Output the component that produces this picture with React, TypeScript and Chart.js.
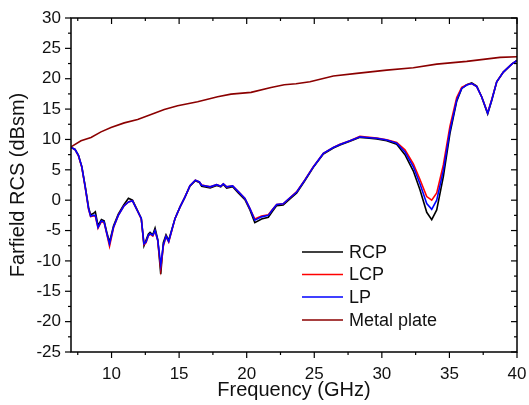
import React, { useEffect, useRef } from "react";
import { Chart, registerables } from "chart.js";

Chart.register(...registerables);

// Frequency samples (GHz) shared by the three polarisation curves
const freq = [
  7.0, 7.3, 7.55, 7.8, 8.05, 8.3, 8.45, 8.65, 8.8, 9.0,
  9.25, 9.45, 9.65, 9.85, 10.15, 10.5, 10.9, 11.25, 11.55, 11.9,
  12.2, 12.4, 12.55, 12.72, 12.85, 13.05, 13.22, 13.42, 13.64, 13.83,
  14.03, 14.23, 14.45, 14.7, 15.07, 15.43, 15.8, 16.2, 16.5, 16.67,
  17.3, 17.78, 18.08, 18.27, 18.52, 18.96, 19.38, 19.87, 20.24, 20.6,
  21.1, 21.6, 21.92, 22.22, 22.7, 23.2, 23.7, 24.3, 24.93, 25.67,
  26.41, 26.9, 27.64, 28.38, 28.88, 29.62, 30.36, 31.1, 31.71, 32.33,
  32.82, 33.32, 33.69, 34.06, 34.55, 35.04, 35.54, 35.91, 36.28, 36.65,
  37.02, 37.39, 37.83, 38.13, 38.5, 38.99, 39.61, 40.0,
];

const lp = [
  8.7, 8.35, 7.4, 5.5, 2.2, -1.4, -2.65, -2.5, -2.5, -4.5,
  -3.4, -3.6, -5.5, -7.2, -4.4, -2.5, -1.0, -0.3, -0.1, -1.7,
  -3.0, -7.2, -6.9, -5.8, -5.5, -5.8, -5.0, -6.6, -10.7, -7.4,
  -5.95, -6.8, -5.0, -3.0, -1.1, 0.5, 2.4, 3.3, 3.0, 2.46,
  2.2, 2.55, 2.3, 2.7, 2.2, 2.35, 1.4, 0.3, -1.4, -3.3,
  -2.75, -2.5, -1.55, -0.7, -0.6, 0.4, 1.35, 3.3, 5.48, 7.7,
  8.67, 9.17, 9.77, 10.43, 10.33, 10.2, 9.9, 9.4, 7.95, 5.5,
  2.7, -0.55, -1.5, 0.0, 4.9, 11.5, 16.5, 18.4, 18.95, 19.2,
  18.7, 17.0, 14.3, 16.5, 19.5, 21.1, 22.4, 23.0,
];

const rcp = [
  8.7, 8.35, 7.4, 5.5, 2.3, -1.2, -2.4, -2.2, -1.9, -4.2,
  -3.2, -3.4, -5.3, -6.9, -4.2, -2.3, -0.8, 0.3, 0.0, -1.6,
  -3.0, -7.5, -6.6, -5.6, -5.3, -5.7, -4.6, -6.5, -12.2, -7.0,
  -5.7, -6.6, -4.9, -3.0, -1.1, 0.5, 2.3, 3.2, 2.9, 2.3,
  2.0, 2.4, 2.2, 2.6, 2.0, 2.2, 1.2, 0.1, -1.6, -3.7,
  -3.1, -2.8, -1.8, -0.9, -0.8, 0.2, 1.2, 3.2, 5.4, 7.6,
  8.6, 9.1, 9.7, 10.35, 10.25, 10.1, 9.8, 9.2, 7.5, 4.8,
  1.7, -2.0, -3.2, -1.6, 3.9, 11.0, 16.3, 18.4, 19.0, 19.3,
  18.8, 17.0, 14.2, 16.4, 19.5, 21.1, 22.4, 23.0,
];

const lcp = [
  8.7, 8.35, 7.3, 5.4, 2.1, -1.5, -2.7, -2.6, -2.6, -4.6,
  -3.5, -3.7, -5.6, -7.6, -4.5, -2.5, -1.0, -0.3, -0.1, -1.7,
  -3.1, -7.3, -7.0, -5.9, -5.6, -5.9, -5.1, -6.7, -11.3, -7.6,
  -6.0, -6.9, -5.1, -3.0, -1.1, 0.5, 2.4, 3.3, 3.0, 2.5,
  2.2, 2.55, 2.3, 2.7, 2.2, 2.35, 1.4, 0.3, -1.4, -3.1,
  -2.6, -2.4, -1.5, -0.7, -0.6, 0.4, 1.4, 3.35, 5.5, 7.7,
  8.7, 9.2, 9.8, 10.5, 10.4, 10.25, 9.95, 9.5, 8.3, 6.0,
  3.4, 0.6, 0.0, 1.2, 5.8, 12.2, 16.9, 18.6, 19.0, 19.2,
  18.7, 17.0, 14.4, 16.6, 19.5, 21.1, 22.4, 23.0,
];

// Metal plate reference curve
const metalFreq = [
  7.0, 7.74, 8.48, 9.22, 9.96, 10.94, 11.93, 12.92, 13.9, 14.89,
  16.37, 17.85, 18.84, 20.32, 21.8, 22.78, 23.65, 24.68, 26.41, 28.14,
  30.36, 32.33, 34.06, 36.28, 37.51, 38.74, 40.0,
];
const metal = [
  8.78, 9.77, 10.33, 11.25, 11.97, 12.73, 13.29, 14.12, 14.94, 15.54,
  16.2, 17.02, 17.47, 17.75, 18.57, 19.0, 19.17, 19.5, 20.44, 20.88,
  21.42, 21.8, 22.41, 22.86, 23.19, 23.52, 23.62,
];

const seriesLabels = ["RCP", "LCP", "LP", "Metal plate"];
const seriesColors = ["#000000", "#ff0000", "#0000ff", "#8b0000"];

const xTickValues = [10, 15, 20, 25, 30, 35, 40];
const yTickValues = [-25, -20, -15, -10, -5, 0, 5, 10, 15, 20, 25, 30];
const xMinorValues = [7.5, 12.5, 17.5, 22.5, 27.5, 32.5, 37.5];
const yMinorValues = [-22.5, -17.5, -12.5, -7.5, -2.5, 2.5, 7.5, 12.5, 17.5, 22.5, 27.5];

const FONT = "'Liberation Sans', Arial, Helvetica, sans-serif";

const pts = (xs: number[], ys: number[]) => xs.map((x, i) => ({ x, y: ys[i] }));

const framePlugin = {
  id: "frameTicks",
  afterDatasetsDraw(chart: any) {
    const { ctx, chartArea, scales } = chart;
    const { left, right, top, bottom } = chartArea;
    const x = scales.x;
    const y = scales.y;
    ctx.save();
    ctx.strokeStyle = "#000";
    ctx.lineCap = "butt";
    const seg = (x1: number, y1: number, x2: number, y2: number) => {
      ctx.beginPath();
      ctx.moveTo(x1, y1);
      ctx.lineTo(x2, y2);
      ctx.stroke();
    };
    ctx.lineWidth = 1.2;
    const xt = (vals: number[], len: number) => {
      vals.forEach((v) => {
        const px = x.getPixelForValue(v);
        seg(px, bottom, px, bottom + len);
        seg(px, top, px, top + len);
      });
    };
    const yt = (vals: number[], len: number) => {
      vals.forEach((v) => {
        const py = y.getPixelForValue(v);
        seg(left, py, left - len, py);
        seg(right, py, right - len, py);
      });
    };
    xt(xTickValues, 6);
    xt(xMinorValues, 3);
    yt(yTickValues, 6);
    yt(yMinorValues, 3);
    ctx.lineWidth = 1.5;
    ctx.strokeRect(left, top, right - left, bottom - top);
    ctx.restore();
  },
};

const legendPlugin = {
  id: "customLegend",
  afterDraw(chart: any) {
    const { ctx } = chart;
    const rows = [252, 274.5, 297, 320];
    ctx.save();
    ctx.font = `18px ${FONT}`;
    ctx.textBaseline = "middle";
    ctx.textAlign = "left";
    seriesLabels.forEach((label, i) => {
      ctx.strokeStyle = seriesColors[i];
      ctx.lineWidth = 1.5;
      ctx.beginPath();
      ctx.moveTo(302, rows[i]);
      ctx.lineTo(343, rows[i]);
      ctx.stroke();
      ctx.fillStyle = "#111";
      ctx.fillText(label, 349, rows[i] + 1);
    });
    ctx.restore();
  },
};

export default function App() {
  const ref = useRef<HTMLCanvasElement | null>(null);

  useEffect(() => {
    if (!ref.current) return;
    const lineDs = (label: string, data: any[], color: string, order: number) => ({
      label,
      data,
      borderColor: color,
      backgroundColor: color,
      borderWidth: 1.6,
      pointRadius: 0,
      tension: 0,
      fill: false,
      order,
    });
    const chart = new Chart(ref.current, {
      type: "line",
      data: {
        datasets: [
          lineDs(seriesLabels[0], pts(freq, rcp), seriesColors[0], 3),
          lineDs(seriesLabels[1], pts(freq, lcp), seriesColors[1], 2),
          lineDs(seriesLabels[2], pts(freq, lp), seriesColors[2], 1),
          lineDs(seriesLabels[3], pts(metalFreq, metal), seriesColors[3], 4),
        ],
      },
      options: {
        animation: false,
        responsive: false,
        maintainAspectRatio: false,
        layout: { padding: { left: 0, top: 18, right: 12, bottom: 0 } },
        plugins: { legend: { display: false }, tooltip: { enabled: false } },
        scales: {
          x: {
            type: "linear",
            min: 7,
            max: 40,
            grid: { display: false, drawTicks: false },
            border: { display: false },
            afterBuildTicks: (s: any) => {
              s.ticks = xTickValues.map((v) => ({ value: v }));
            },
            afterFit: (s: any) => {
              s.height = 53;
              s.paddingLeft = 0;
              s.paddingRight = 0;
            },
            ticks: {
              autoSkip: false,
              maxRotation: 0,
              padding: 12,
              color: "#111",
              font: { family: FONT, size: 17 },
            },
            title: {
              display: true,
              text: "Frequency (GHz)",
              color: "#111",
              font: { family: FONT, size: 20 },
              padding: { top: 0, bottom: 3 },
            },
          },
          y: {
            type: "linear",
            min: -25,
            max: 30,
            grid: { display: false, drawTicks: false },
            border: { display: false },
            afterBuildTicks: (s: any) => {
              s.ticks = yTickValues.map((v) => ({ value: v }));
            },
            afterFit: (s: any) => {
              s.width = 71;
              s.paddingTop = 0;
              s.paddingBottom = 0;
            },
            ticks: {
              autoSkip: false,
              padding: 10,
              color: "#111",
              font: { family: FONT, size: 17 },
            },
            title: {
              display: true,
              text: "Farfield RCS (dBsm)",
              color: "#111",
              font: { family: FONT, size: 20 },
              padding: { top: 6, bottom: 0 },
            },
          },
        },
      },
      plugins: [framePlugin, legendPlugin],
    });
    return () => chart.destroy();
  }, []);

  return (
    <div style={{ position: "absolute", left: 0, top: 0, width: 529, height: 405, background: "#fff" }}>
      <canvas ref={ref} width={529} height={405} style={{ display: "block", width: 529, height: 405 }} />
    </div>
  );
}
